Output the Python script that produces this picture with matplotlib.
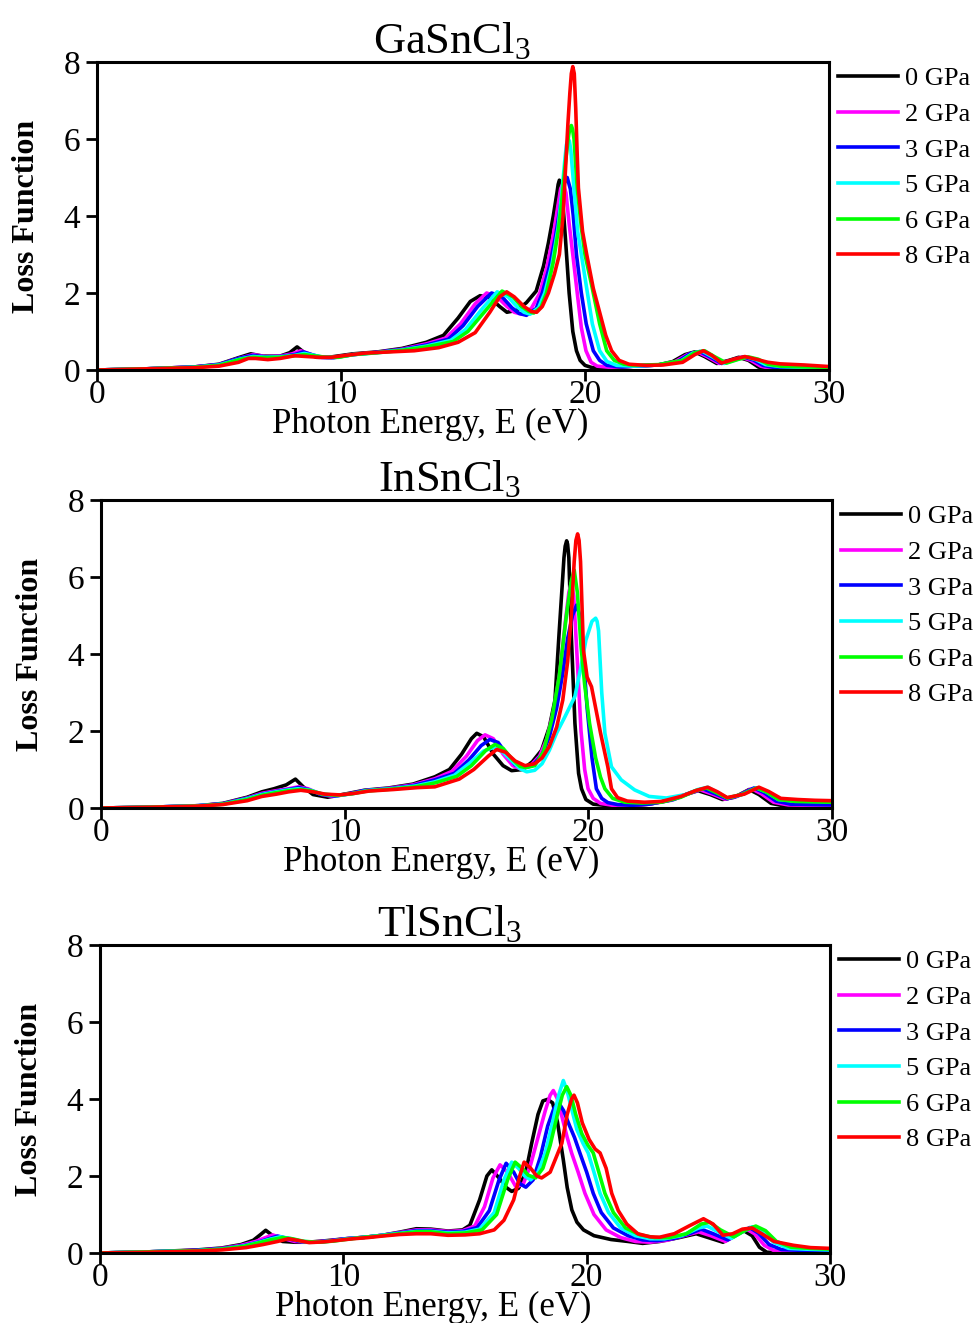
import matplotlib
matplotlib.use("Agg")
import matplotlib.pyplot as plt

plt.rcParams['font.family'] = ['Liberation Serif', 'DejaVu Serif']
plt.rcParams['mathtext.fontset'] = 'custom'
plt.rcParams['mathtext.rm'] = 'Liberation Serif'
plt.rcParams['mathtext.it'] = 'Liberation Serif:italic'

# ---------------- data ----------------
PRESSURES = ['0 GPa', '2 GPa', '3 GPa', '5 GPa', '6 GPa', '8 GPa']
COLORS = ['#000000', '#FF00FF', '#0000FF', '#00FFFF', '#00FF00', '#FF0000']
TITLES = ['GaSnCl$_3$', 'InSnCl$_3$', 'TlSnCl$_3$']
X_TICKS = [0, 10, 20, 30]
Y_TICKS = [0, 2, 4, 6, 8]

# GaSnCl3
GA_0_E = [0, 2, 4, 5, 5.8, 6.3, 6.8, 7.5, 7.9, 8.2, 8.5, 9.0, 9.5, 10.5, 11.5, 12.5, 13.5, 14.2, 14.8, 15.3, 15.7, 16.1, 16.5, 16.8, 17.2, 17.6, 18.0, 18.3, 18.5, 18.7, 18.85, 18.9, 18.95, 19.0, 19.05, 19.2, 19.35, 19.5, 19.65, 19.8, 20.0, 20.3, 21.0, 22.0, 23.0, 23.6, 24.1, 24.5, 24.9, 25.4, 25.9, 26.3, 26.7, 27.1, 27.5, 28.0, 30.0]
GA_0_L = [0, 0.03, 0.08, 0.15, 0.32, 0.42, 0.36, 0.36, 0.45, 0.6, 0.45, 0.33, 0.33, 0.42, 0.47, 0.56, 0.72, 0.9, 1.35, 1.78, 1.93, 1.88, 1.65, 1.5, 1.55, 1.75, 2.05, 2.7, 3.3, 4.0, 4.6, 4.82, 4.93, 4.88, 4.7, 3.4, 2.0, 1.0, 0.5, 0.25, 0.12, 0.06, 0.06, 0.1, 0.13, 0.22, 0.4, 0.47, 0.35, 0.17, 0.25, 0.33, 0.25, 0.08, 0.01, 0, 0]
GA_2_E = [0, 2, 4, 5, 5.8, 6.4, 6.9, 7.5, 8.0, 8.35, 8.7, 9.1, 9.6, 10.5, 11.5, 12.5, 13.5, 14.3, 14.9, 15.5, 15.97, 16.4, 16.8, 17.1, 17.4, 17.8, 18.15, 18.45, 18.7, 18.9, 19.0, 19.1, 19.22, 19.35, 19.5, 19.7, 19.85, 20.04, 20.25, 20.5, 21.0, 22.0, 23.0, 23.7, 24.2, 24.6, 25.0, 25.5, 26.0, 26.4, 26.8, 27.2, 27.6, 28.0, 30.0]
GA_2_L = [0, 0.03, 0.08, 0.14, 0.3, 0.4, 0.35, 0.36, 0.42, 0.5, 0.42, 0.33, 0.32, 0.4, 0.46, 0.54, 0.68, 0.83, 1.2, 1.72, 2.0, 1.9, 1.65, 1.5, 1.45, 1.6, 2.0, 2.7, 3.5, 4.3, 4.7, 4.85, 4.6, 3.8, 3.0, 1.9, 1.1, 0.5, 0.2, 0.1, 0.07, 0.1, 0.13, 0.22, 0.4, 0.47, 0.35, 0.17, 0.25, 0.33, 0.25, 0.1, 0.04, 0.03, 0.02]
GA_3_E = [0, 2, 4, 5, 5.8, 6.4, 6.9, 7.5, 8.1, 8.45, 8.8, 9.2, 9.7, 10.5, 11.5, 12.5, 13.5, 14.4, 15.0, 15.6, 16.17, 16.6, 17.0, 17.3, 17.6, 18.0, 18.25, 18.55, 18.8, 19.0, 19.15, 19.27, 19.4, 19.52, 19.65, 19.85, 20.05, 20.34, 20.6, 20.9, 21.5, 22.0, 23.0, 23.8, 24.3, 24.7, 25.1, 25.6, 26.1, 26.5, 26.9, 27.3, 27.8, 28.5, 30.0]
GA_3_L = [0, 0.03, 0.08, 0.14, 0.3, 0.38, 0.34, 0.35, 0.4, 0.47, 0.4, 0.33, 0.32, 0.4, 0.46, 0.53, 0.65, 0.8, 1.15, 1.65, 2.0, 1.9, 1.62, 1.47, 1.42, 1.6, 2.0, 2.7, 3.5, 4.3, 4.85, 5.0, 4.7, 4.0, 3.0, 2.0, 1.2, 0.5, 0.25, 0.12, 0.08, 0.1, 0.13, 0.22, 0.42, 0.48, 0.35, 0.17, 0.26, 0.34, 0.26, 0.12, 0.06, 0.04, 0.03]
GA_5_E = [0, 2, 4, 5, 5.9, 6.4, 6.9, 7.5, 8.1, 8.5, 8.9, 9.3, 9.8, 10.5, 11.5, 12.5, 13.5, 14.5, 15.1, 15.8, 16.4, 16.85, 17.2, 17.5, 17.75, 18.1, 18.35, 18.65, 18.9, 19.05, 19.18, 19.24, 19.3, 19.36, 19.42, 19.55, 19.7, 19.85, 20.05, 20.3, 20.6, 20.9, 21.3, 22.0, 23.0, 23.9, 24.4, 24.8, 25.2, 25.7, 26.2, 26.6, 27.0, 27.4, 28.0, 29.0, 30.0]
GA_5_L = [0, 0.03, 0.07, 0.13, 0.29, 0.35, 0.33, 0.34, 0.38, 0.43, 0.38, 0.33, 0.33, 0.4, 0.45, 0.52, 0.62, 0.77, 1.05, 1.6, 2.03, 1.9, 1.65, 1.5, 1.45, 1.62, 2.0, 2.75, 3.7, 4.6, 5.5, 5.85, 6.0, 5.95, 5.7, 4.7, 3.6, 3.0, 2.2, 1.2, 0.5, 0.22, 0.12, 0.1, 0.13, 0.22, 0.43, 0.49, 0.35, 0.17, 0.27, 0.34, 0.27, 0.14, 0.09, 0.07, 0.06]
GA_6_E = [0, 2, 4, 5, 5.9, 6.4, 6.9, 7.5, 8.1, 8.5, 9.0, 9.4, 9.9, 10.5, 11.5, 12.5, 13.5, 14.6, 15.2, 16.0, 16.6, 17.05, 17.4, 17.7, 17.9, 18.2, 18.42, 18.7, 18.9, 19.05, 19.2, 19.33, 19.39, 19.44, 19.49, 19.55, 19.68, 19.85, 20.0, 20.3, 20.6, 20.89, 21.2, 21.6, 22.0, 23.0, 24.0, 24.5, 24.9, 25.3, 25.8, 26.3, 26.7, 27.1, 27.5, 28.0, 29.0, 30.0]
GA_6_L = [0, 0.03, 0.07, 0.12, 0.28, 0.33, 0.32, 0.33, 0.37, 0.4, 0.36, 0.33, 0.33, 0.4, 0.45, 0.51, 0.6, 0.74, 1.0, 1.6, 2.05, 1.9, 1.65, 1.52, 1.48, 1.63, 2.0, 2.8, 3.6, 4.4, 5.4, 6.1, 6.3, 6.35, 6.25, 6.0, 4.73, 3.7, 3.0, 2.12, 1.2, 0.5, 0.25, 0.15, 0.12, 0.14, 0.25, 0.45, 0.5, 0.35, 0.18, 0.28, 0.34, 0.28, 0.15, 0.1, 0.08, 0.07]
GA_8_E = [0, 2, 4, 5, 5.8, 6.2, 6.5, 7.0, 7.5, 8.1, 8.6, 9.1, 9.6, 10.2, 11.0, 12.0, 13.0, 14.0, 14.8, 15.5, 16.1, 16.5, 16.79, 17.1, 17.5, 17.8, 18.02, 18.25, 18.5, 18.75, 18.95, 19.1, 19.3, 19.38, 19.44, 19.5, 19.56, 19.62, 19.68, 19.73, 19.9, 20.07, 20.34, 20.6, 20.85, 21.09, 21.4, 21.8, 22.5, 23.2, 24.0, 24.5, 24.85, 25.2, 25.6, 26.1, 26.55, 27.0, 27.5, 28.0, 29.0, 30.0]
GA_8_L = [0, 0.03, 0.06, 0.1, 0.2, 0.3, 0.3, 0.27, 0.3, 0.37, 0.35, 0.33, 0.33, 0.38, 0.44, 0.47, 0.5, 0.58, 0.72, 0.97, 1.5, 1.9, 2.03, 1.9, 1.65, 1.52, 1.5, 1.65, 2.0, 2.5, 3.0, 4.0, 6.4, 7.2, 7.7, 7.88, 7.7, 6.8, 5.6, 4.73, 3.6, 3.0, 2.12, 1.5, 0.9, 0.5, 0.25, 0.15, 0.12, 0.13, 0.2, 0.4, 0.5, 0.38, 0.18, 0.28, 0.35, 0.28, 0.2, 0.16, 0.13, 0.09]

# InSnCl3
IN_0_E = [0, 2, 4, 5, 6, 6.6, 7.1, 7.6, 7.98, 8.3, 8.7, 9.3, 10.0, 10.8, 11.8, 12.8, 13.7, 14.3, 14.8, 15.2, 15.42, 15.7, 16.1, 16.5, 16.85, 17.3, 17.7, 18.08, 18.4, 18.63, 18.8, 18.95, 19.0, 19.05, 19.11, 19.15, 19.2, 19.3, 19.45, 19.6, 19.72, 19.9, 20.2, 20.8, 21.5, 22.5, 23.3, 24.0, 24.5, 25.0, 25.5, 26.0, 26.6, 27.0, 27.5, 28.0, 29.0, 30.0]
IN_0_L = [0, 0.02, 0.06, 0.12, 0.28, 0.42, 0.5, 0.6, 0.75, 0.55, 0.35, 0.28, 0.36, 0.46, 0.52, 0.62, 0.81, 1.0, 1.4, 1.8, 1.94, 1.85, 1.4, 1.1, 0.97, 1.0, 1.2, 1.5, 2.1, 2.8, 4.54, 6.0, 6.5, 6.8, 6.94, 6.85, 6.5, 4.5, 2.2, 0.9, 0.5, 0.22, 0.1, 0.06, 0.05, 0.1, 0.2, 0.35, 0.45, 0.35, 0.22, 0.28, 0.48, 0.35, 0.12, 0.06, 0.06, 0.05]
IN_2_E = [0, 2, 4, 5, 6, 6.6, 7.2, 7.7, 8.1, 8.5, 9.0, 9.5, 10.1, 10.8, 11.8, 12.8, 13.7, 14.4, 15.0, 15.45, 15.76, 16.1, 16.5, 16.9, 17.2, 17.6, 18.0, 18.3, 18.6, 18.85, 19.05, 19.2, 19.3, 19.4, 19.55, 19.7, 19.85, 19.99, 20.2, 20.5, 21.0, 21.5, 22.5, 23.4, 24.1, 24.6, 25.1, 25.6, 26.1, 26.7, 27.1, 27.6, 28.2, 29.0, 30.0]
IN_2_L = [0, 0.02, 0.06, 0.11, 0.26, 0.38, 0.45, 0.5, 0.55, 0.5, 0.36, 0.3, 0.36, 0.45, 0.51, 0.6, 0.76, 0.95, 1.35, 1.75, 1.9, 1.8, 1.4, 1.1, 1.02, 1.08, 1.35, 1.8, 2.6, 3.6, 4.8, 5.6, 5.85, 5.5, 3.8, 2.0, 1.0, 0.5, 0.25, 0.12, 0.07, 0.06, 0.1, 0.2, 0.37, 0.47, 0.36, 0.23, 0.3, 0.5, 0.37, 0.15, 0.08, 0.07, 0.06]
IN_3_E = [0, 2, 4, 5, 6, 6.6, 7.2, 7.7, 8.1, 8.5, 9.0, 9.6, 10.2, 10.8, 11.8, 12.8, 13.7, 14.5, 15.1, 15.6, 15.96, 16.3, 16.7, 17.0, 17.3, 17.7, 18.1, 18.4, 18.7, 18.95, 19.15, 19.35, 19.52, 19.65, 19.8, 19.95, 20.15, 20.33, 20.55, 20.8, 21.2, 21.8, 22.5, 23.5, 24.2, 24.7, 25.2, 25.7, 26.2, 26.8, 27.2, 27.7, 28.3, 29.0, 30.0]
IN_3_L = [0, 0.02, 0.06, 0.11, 0.25, 0.36, 0.43, 0.48, 0.53, 0.48, 0.36, 0.31, 0.37, 0.45, 0.5, 0.58, 0.73, 0.9, 1.25, 1.62, 1.78, 1.7, 1.35, 1.12, 1.05, 1.1, 1.38, 1.85, 2.6, 3.5, 4.4, 5.0, 5.27, 5.0, 3.9, 2.6, 1.3, 0.5, 0.25, 0.14, 0.09, 0.07, 0.1, 0.22, 0.4, 0.5, 0.37, 0.24, 0.33, 0.52, 0.4, 0.18, 0.1, 0.09, 0.08]
IN_5_E = [0, 2, 4, 5, 6, 6.6, 7.2, 7.7, 8.1, 8.6, 9.1, 9.7, 10.3, 10.9, 11.9, 12.9, 13.7, 14.5, 15.1, 15.7, 16.1, 16.5, 16.9, 17.2, 17.47, 17.8, 18.1, 18.4, 18.7, 19.04, 19.45, 19.7, 19.9, 20.15, 20.3, 20.36, 20.42, 20.55, 20.68, 20.95, 21.35, 21.9, 22.5, 23.2, 24.0, 24.5, 24.9, 25.3, 25.7, 26.3, 26.9, 27.3, 27.8, 28.5, 29.3, 30.0]
IN_5_L = [0, 0.02, 0.06, 0.1, 0.24, 0.35, 0.42, 0.47, 0.5, 0.46, 0.36, 0.32, 0.37, 0.45, 0.5, 0.57, 0.68, 0.85, 1.15, 1.48, 1.57, 1.45, 1.2, 1.02, 0.94, 0.98, 1.15, 1.5, 1.95, 2.37, 2.9, 3.67, 4.36, 4.85, 4.93, 4.85, 4.6, 3.0, 1.94, 1.07, 0.73, 0.47, 0.3, 0.26, 0.35, 0.48, 0.54, 0.4, 0.26, 0.35, 0.52, 0.42, 0.22, 0.18, 0.17, 0.16]
IN_6_E = [0, 2, 4, 5, 6, 6.6, 7.2, 7.7, 8.2, 8.6, 9.1, 9.7, 10.3, 10.9, 11.9, 12.9, 13.7, 14.6, 15.2, 15.8, 16.17, 16.5, 16.9, 17.2, 17.45, 17.8, 18.15, 18.5, 18.8, 19.1, 19.3, 19.42, 19.55, 19.7, 19.85, 20.05, 20.3, 20.5, 20.68, 21.0, 21.5, 22.2, 23.0, 23.8, 24.4, 24.85, 25.25, 25.7, 26.3, 26.9, 27.3, 27.8, 28.5, 29.3, 30.0]
IN_6_L = [0, 0.02, 0.05, 0.1, 0.22, 0.33, 0.4, 0.45, 0.48, 0.45, 0.36, 0.33, 0.37, 0.44, 0.49, 0.55, 0.65, 0.82, 1.1, 1.5, 1.65, 1.55, 1.25, 1.08, 1.05, 1.1, 1.45, 2.3, 3.4, 5.0, 5.9, 6.18, 5.6, 4.2, 3.2, 2.2, 1.3, 0.8, 0.5, 0.25, 0.15, 0.13, 0.15, 0.28, 0.45, 0.52, 0.4, 0.26, 0.35, 0.52, 0.42, 0.22, 0.17, 0.16, 0.15]
IN_8_E = [0, 2, 4, 5, 6, 6.6, 7.2, 7.7, 8.2, 8.7, 9.2, 9.8, 10.4, 11.0, 12.0, 13.0, 13.7, 14.7, 15.3, 15.9, 16.24, 16.6, 17.0, 17.4, 17.8, 18.1, 18.4, 18.7, 18.95, 19.15, 19.3, 19.42, 19.49, 19.56, 19.62, 19.68, 19.8, 19.95, 20.13, 20.3, 20.5, 20.8, 20.95, 21.2, 21.6, 22.3, 23.0, 23.8, 24.4, 24.9, 25.3, 25.7, 26.4, 27.0, 27.4, 27.9, 28.6, 29.3, 30.0]
IN_8_L = [0, 0.02, 0.05, 0.09, 0.19, 0.3, 0.36, 0.42, 0.46, 0.42, 0.36, 0.34, 0.38, 0.44, 0.48, 0.53, 0.55, 0.75, 1.0, 1.35, 1.52, 1.45, 1.22, 1.1, 1.15, 1.3, 1.6, 2.1, 2.8, 3.8, 5.0, 6.4, 6.95, 7.12, 6.95, 6.4, 4.1, 3.4, 3.15, 2.6, 1.95, 1.07, 0.5, 0.27, 0.18, 0.15, 0.17, 0.3, 0.45, 0.54, 0.42, 0.27, 0.36, 0.54, 0.43, 0.25, 0.22, 0.2, 0.19]

# TlSnCl3
TL_0_E = [0, 2, 4, 5, 5.8, 6.3, 6.6, 6.81, 7.1, 7.5, 8.0, 8.55, 9.3, 10.1, 10.9, 11.6, 12.3, 13.0, 13.6, 14.3, 14.9, 15.2, 15.6, 15.9, 16.1, 16.4, 16.7, 16.92, 17.2, 17.5, 17.74, 18.0, 18.2, 18.39, 18.6, 18.8, 19.04, 19.2, 19.39, 19.6, 19.87, 20.3, 21.0, 21.7, 22.3, 23.0, 23.8, 24.5, 25.0, 25.6, 26.0, 26.4, 26.8, 27.1, 27.4, 28.0, 30.0]
TL_0_L = [0, 0.03, 0.08, 0.13, 0.22, 0.33, 0.48, 0.59, 0.45, 0.3, 0.28, 0.28, 0.32, 0.37, 0.41, 0.46, 0.54, 0.63, 0.62, 0.57, 0.6, 0.72, 1.38, 2.0, 2.16, 1.95, 1.7, 1.6, 1.68, 2.1, 2.85, 3.6, 3.95, 3.99, 3.9, 3.4, 2.42, 1.7, 1.12, 0.8, 0.6, 0.45, 0.35, 0.3, 0.25, 0.3, 0.4, 0.5, 0.4, 0.28, 0.42, 0.6, 0.45, 0.15, 0.02, 0, 0]
TL_2_E = [0, 2, 4, 5, 5.8, 6.4, 6.8, 7.1, 7.5, 8.0, 8.6, 9.3, 10.1, 10.9, 11.6, 12.3, 13.0, 13.6, 14.3, 14.9, 15.4, 15.8, 16.15, 16.44, 16.75, 17.1, 17.4, 17.7, 18.0, 18.3, 18.5, 18.63, 18.8, 19.0, 19.2, 19.38, 19.65, 19.93, 20.3, 20.8, 21.4, 22.0, 22.6, 23.3, 24.0, 24.6, 25.1, 25.7, 26.1, 26.55, 26.9, 27.3, 27.7, 28.5, 30.0]
TL_2_L = [0, 0.03, 0.07, 0.12, 0.2, 0.3, 0.4, 0.47, 0.38, 0.3, 0.28, 0.31, 0.37, 0.41, 0.46, 0.53, 0.6, 0.6, 0.56, 0.58, 0.7, 1.2, 1.95, 2.29, 2.1, 1.71, 1.8, 2.3, 3.0, 3.7, 4.1, 4.22, 4.0, 3.5, 3.0, 2.6, 2.1, 1.55, 1.0, 0.6, 0.4, 0.3, 0.28, 0.33, 0.45, 0.55, 0.45, 0.3, 0.45, 0.63, 0.5, 0.2, 0.06, 0.04, 0.03]
TL_3_E = [0, 2, 4, 5, 5.9, 6.5, 7.0, 7.3, 7.7, 8.2, 8.8, 9.4, 10.1, 10.9, 11.6, 12.3, 13.0, 13.6, 14.3, 14.9, 15.5, 16.0, 16.4, 16.69, 17.0, 17.25, 17.5, 17.8, 18.1, 18.4, 18.65, 18.85, 19.05, 19.3, 19.5, 19.72, 20.0, 20.27, 20.6, 21.1, 21.7, 22.3, 22.9, 23.6, 24.3, 24.7, 25.2, 25.8, 26.25, 26.7, 27.05, 27.5, 28.0, 28.8, 30.0]
TL_3_L = [0, 0.03, 0.07, 0.11, 0.19, 0.28, 0.38, 0.44, 0.38, 0.3, 0.28, 0.31, 0.37, 0.41, 0.46, 0.52, 0.58, 0.58, 0.54, 0.56, 0.66, 1.1, 1.9, 2.33, 2.1, 1.8, 1.71, 1.9, 2.5, 3.3, 3.75, 3.9, 3.7, 3.3, 3.0, 2.6, 2.1, 1.55, 1.05, 0.65, 0.45, 0.34, 0.32, 0.38, 0.52, 0.62, 0.5, 0.34, 0.5, 0.66, 0.52, 0.22, 0.09, 0.07, 0.06]
TL_5_E = [0, 2, 4, 5, 5.9, 6.5, 7.0, 7.4, 7.8, 8.3, 8.9, 9.5, 10.2, 10.9, 11.6, 12.3, 13.0, 13.6, 14.3, 15.0, 15.6, 16.2, 16.6, 16.92, 17.2, 17.45, 17.7, 18.0, 18.3, 18.6, 18.85, 19.04, 19.2, 19.4, 19.6, 19.85, 20.06, 20.3, 20.55, 20.9, 21.4, 22.0, 22.6, 23.2, 23.9, 24.6, 24.95, 25.4, 25.95, 26.4, 26.8, 27.2, 27.7, 28.3, 29.0, 30.0]
TL_5_L = [0, 0.03, 0.06, 0.1, 0.18, 0.27, 0.36, 0.42, 0.38, 0.3, 0.28, 0.31, 0.37, 0.41, 0.46, 0.51, 0.56, 0.56, 0.52, 0.54, 0.62, 1.05, 1.9, 2.36, 2.2, 2.0, 1.9, 2.1, 2.6, 3.4, 4.1, 4.48, 4.2, 3.7, 3.2, 2.85, 2.6, 2.1, 1.55, 1.05, 0.65, 0.45, 0.37, 0.37, 0.45, 0.65, 0.7, 0.55, 0.38, 0.55, 0.68, 0.55, 0.27, 0.12, 0.1, 0.08]
TL_6_E = [0, 2, 4, 5, 5.9, 6.5, 7.0, 7.5, 7.9, 8.4, 9.0, 9.6, 10.2, 10.9, 11.6, 12.3, 13.0, 13.6, 14.3, 15.0, 15.7, 16.3, 16.75, 17.06, 17.35, 17.6, 17.9, 18.2, 18.5, 18.8, 19.0, 19.18, 19.35, 19.55, 19.8, 20.05, 20.27, 20.5, 20.75, 21.1, 21.6, 22.2, 22.8, 23.4, 24.1, 24.7, 25.05, 25.5, 26.05, 26.55, 26.95, 27.35, 27.8, 28.4, 29.2, 30.0]
TL_6_L = [0, 0.03, 0.06, 0.1, 0.17, 0.26, 0.34, 0.4, 0.37, 0.3, 0.28, 0.31, 0.36, 0.41, 0.45, 0.5, 0.55, 0.55, 0.5, 0.52, 0.6, 1.0, 1.9, 2.36, 2.2, 2.02, 1.95, 2.2, 2.8, 3.6, 4.1, 4.32, 4.1, 3.6, 3.1, 2.8, 2.6, 2.1, 1.55, 1.05, 0.65, 0.47, 0.4, 0.4, 0.5, 0.75, 0.8, 0.6, 0.42, 0.6, 0.7, 0.58, 0.3, 0.15, 0.12, 0.1]
TL_8_E = [0, 2, 4, 5, 6.0, 6.7, 7.3, 7.74, 8.1, 8.6, 9.2, 9.8, 10.4, 11.0, 11.6, 12.3, 13.0, 13.6, 14.3, 15.0, 15.6, 16.2, 16.6, 17.0, 17.25, 17.43, 17.7, 17.95, 18.15, 18.5, 18.98, 19.2, 19.38, 19.48, 19.62, 19.82, 20.1, 20.35, 20.55, 20.8, 21.03, 21.3, 21.65, 22.1, 22.6, 23.0, 23.6, 24.2, 24.8, 25.2, 25.6, 26.0, 26.4, 26.8, 27.2, 27.7, 28.5, 29.2, 30.0]
TL_8_L = [0, 0.02, 0.05, 0.08, 0.14, 0.22, 0.3, 0.37, 0.33, 0.27, 0.29, 0.33, 0.37, 0.4, 0.44, 0.48, 0.5, 0.5, 0.46, 0.47, 0.5, 0.6, 0.85, 1.38, 2.0, 2.36, 2.2, 2.0, 1.95, 2.1, 2.85, 3.6, 4.0, 4.1, 3.9, 3.38, 2.95, 2.7, 2.6, 2.2, 1.55, 1.1, 0.75, 0.5, 0.42, 0.41, 0.5, 0.7, 0.89, 0.75, 0.46, 0.5, 0.62, 0.65, 0.5, 0.3, 0.2, 0.14, 0.12]

PANELS = [
    [(GA_0_E, GA_0_L), (GA_2_E, GA_2_L), (GA_3_E, GA_3_L), (GA_5_E, GA_5_L), (GA_6_E, GA_6_L), (GA_8_E, GA_8_L)],
    [(IN_0_E, IN_0_L), (IN_2_E, IN_2_L), (IN_3_E, IN_3_L), (IN_5_E, IN_5_L), (IN_6_E, IN_6_L), (IN_8_E, IN_8_L)],
    [(TL_0_E, TL_0_L), (TL_2_E, TL_2_L), (TL_3_E, TL_3_L), (TL_5_E, TL_5_L), (TL_6_E, TL_6_L), (TL_8_E, TL_8_L)],
]

# ---------------- layout ----------------
W, H = 976, 1323
fig = plt.figure(figsize=(W / 100, H / 100), dpi=100)

# axes boxes in pixels: (left, top, right, bottom)
boxes = [(97, 62, 829, 370), (101, 500, 832, 808), (100, 945, 830, 1253)]
title_x = [0.485, 0.477, 0.479]
xlabel_x = [0.455, 0.466, 0.456]
ylabel_right_px = [41, 45, 44]

for i, (l, t, r, b) in enumerate(boxes):
    ax = fig.add_axes([l / W, 1 - b / H, (r - l) / W, (b - t) / H])
    for (e, v), c, lab in zip(PANELS[i], COLORS, PRESSURES):
        ax.plot(e, v, color=c, lw=2.6, label=lab, solid_joinstyle='round')
    ax.set_xlim(0, 30)
    ax.set_ylim(0, 8)
    ax.set_xticks(X_TICKS)
    ax.set_yticks(Y_TICKS)
    for s in ax.spines.values():
        s.set_linewidth(2.2)
    ax.tick_params(axis='both', direction='out', length=8, width=2.0,
                   labelsize=24, top=False, right=False)
    ax.tick_params(axis='x', pad=-1)
    ax.tick_params(axis='y', pad=4)
    ax.set_title(TITLES[i], fontsize=32, pad=2, x=title_x[i])
    ax.set_xlabel('Photon Energy, E (eV)', fontsize=25)
    ax.xaxis.set_label_coords(xlabel_x[i], -0.123)
    ax.set_ylabel('Loss Function', fontsize=23, fontweight='bold')
    ax.yaxis.set_label_coords((ylabel_right_px[i] - l) / (r - l), 0.5)
    ax.legend(loc='upper left', bbox_to_anchor=(1.012, 0.984), frameon=False,
              fontsize=19, handlelength=2.3, handletextpad=0.25,
              labelspacing=0.46, borderpad=0, borderaxespad=0)

fig.savefig('out.png', dpi=100)
